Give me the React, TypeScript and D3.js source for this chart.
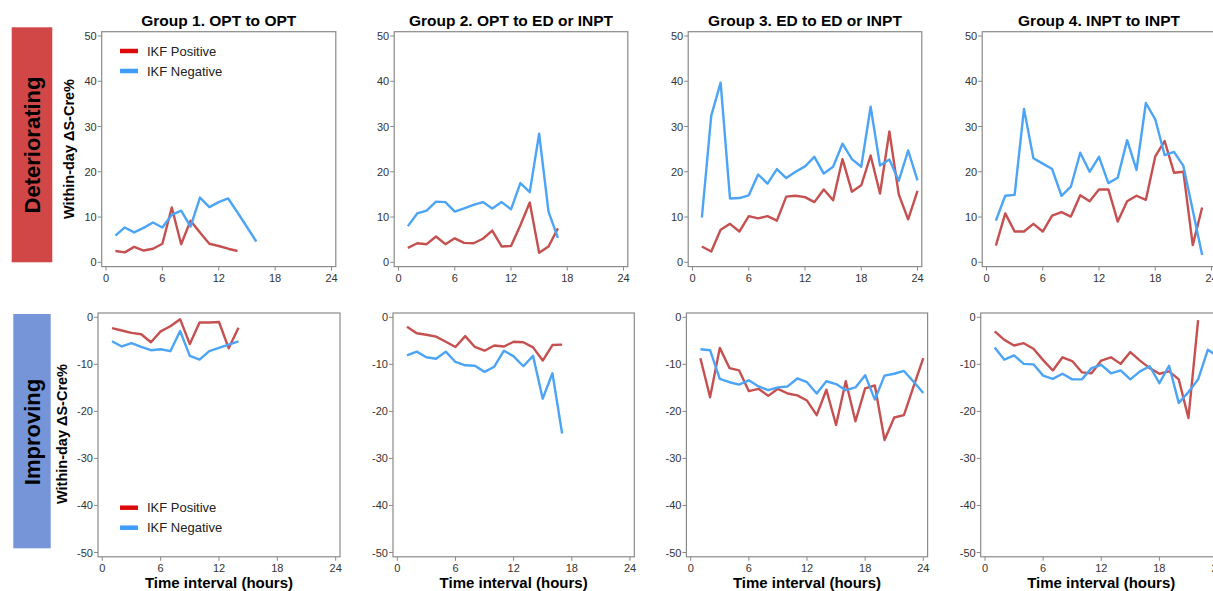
import React from "react";
import * as d3 from "d3";

// ---------- DATA (values start at hour 1) ----------
const groupTitles = [
  "Group 1. OPT to OPT",
  "Group 2. OPT to ED or INPT",
  "Group 3. ED to ED or INPT",
  "Group 4. INPT to INPT",
];
const rowLabels = ["Deteriorating", "Improving"];
const seriesNames = ["IKF Positive", "IKF Negative"];
const xTicks = [0, 6, 12, 18, 24];
const yTicksDet = [0, 10, 20, 30, 40, 50];
const yTicksImp = [0, -10, -20, -30, -40, -50];

const g1DetPos = [2.5, 2.2, 3.4, 2.6, 3.0, 4.1, 12.1, 4.0, 9.2, 6.6, 4.1, 3.6, 3.0, 2.5];
const g1DetNeg = [5.9, 7.7, 6.6, 7.6, 8.8, 7.7, 10.5, 11.4, 7.9, 14.3, 12.2, 13.3, 14.1, 11.0, 7.8, 4.6];
const g2DetPos = [3.2, 4.2, 4.0, 5.7, 4.0, 5.3, 4.3, 4.2, 5.2, 7.0, 3.5, 3.6, 8.2, 13.2, 2.1, 3.5, 7.5];
const g2DetNeg = [8.0, 10.8, 11.4, 13.4, 13.3, 11.2, 11.9, 12.7, 13.3, 11.9, 13.3, 11.7, 17.5, 15.5, 28.4, 11.2, 5.4];
const g3DetPos = [3.5, 2.4, 7.2, 8.5, 6.8, 10.2, 9.7, 10.2, 9.2, 14.5, 14.7, 14.4, 13.3, 16.1, 13.7, 22.8, 15.6, 17.0, 23.6, 15.2, 28.9, 15.0, 9.5, 15.8];
const g3DetNeg = [9.9, 32.4, 39.7, 14.1, 14.2, 14.8, 19.4, 17.4, 20.6, 18.6, 20.0, 21.2, 23.3, 19.6, 21.1, 26.2, 22.8, 21.1, 34.4, 21.4, 22.7, 18.0, 24.7, 18.1];
const g4DetPos = [3.7, 10.8, 6.8, 6.8, 8.5, 6.8, 10.3, 11.1, 10.1, 14.8, 13.5, 16.1, 16.1, 9.0, 13.5, 14.7, 13.8, 23.4, 26.8, 19.8, 20.0, 3.8, 12.1];
const g4DetNeg = [9.2, 14.7, 14.9, 33.9, 23.0, 21.8, 20.6, 14.7, 16.7, 24.2, 20.0, 23.3, 17.5, 18.7, 27.0, 20.4, 35.2, 31.6, 23.7, 24.4, 21.3, 11.5, 1.6];

const g1ImpPos = [-2.3, -2.8, -3.3, -3.6, -5.3, -3.0, -1.9, -0.4, -5.7, -1.1, -1.1, -1.0, -6.6, -2.2];
const g1ImpNeg = [-5.1, -6.2, -5.5, -6.3, -7.0, -6.8, -7.2, -2.9, -8.2, -9.0, -7.2, -6.5, -5.8, -5.1];
const g2ImpPos = [-2.0, -3.4, -3.7, -4.1, -5.2, -6.3, -4.0, -6.3, -7.1, -6.0, -6.2, -5.2, -5.3, -6.4, -9.2, -5.9, -5.8];
const g2ImpNeg = [-8.1, -7.3, -8.5, -8.8, -7.3, -9.5, -10.2, -10.3, -11.6, -10.5, -7.1, -8.3, -10.4, -8.2, -17.3, -11.9, -24.7];
const g3ImpPos = [-8.7, -17.0, -6.5, -10.8, -11.3, -15.7, -15.2, -16.7, -15.2, -16.2, -16.6, -17.7, -20.8, -15.4, -22.9, -13.6, -22.1, -15.1, -14.5, -26.1, -21.3, -20.8, -14.7, -8.7];
const g3ImpNeg = [-6.8, -7.0, -13.1, -13.8, -14.3, -13.4, -14.7, -15.5, -14.9, -14.7, -13.0, -13.8, -16.2, -13.6, -14.2, -15.5, -14.9, -12.3, -17.5, -12.4, -12.0, -11.4, -13.7, -16.1];
const g4ImpPos = [-3.0, -4.8, -6.0, -5.5, -6.7, -9.1, -11.3, -8.5, -9.3, -11.7, -11.9, -9.2, -8.5, -9.9, -7.4, -9.2, -10.8, -12.0, -11.5, -13.2, -21.4, -0.6];
const g4ImpNeg = [-6.4, -9.0, -8.1, -9.9, -10.0, -12.4, -13.1, -12.0, -13.2, -13.2, -10.8, -10.1, -11.9, -11.3, -13.2, -11.5, -10.4, -14.0, -10.3, -18.2, -15.9, -13.2, -6.9, -8.3];

const detPos = [g1DetPos, g2DetPos, g3DetPos, g4DetPos];
const detNeg = [g1DetNeg, g2DetNeg, g3DetNeg, g4DetNeg];
const impPos = [g1ImpPos, g2ImpPos, g3ImpPos, g4ImpPos];
const impNeg = [g1ImpNeg, g2ImpNeg, g3ImpNeg, g4ImpNeg];

// ---------- STYLE / LAYOUT ----------
const FONT = "'Liberation Sans', Arial, sans-serif";
const RED = "#c64f4f";
const BLUE = "#4ba4f6";
const LEG_RED = "#dd0a0a";
const LEG_BLUE = "#3f9cff";

// pixel ranges of each panel's data extent [x0,x24] and [yTop,yBottom]
const topX = [[106, 331.5], [398.5, 623.5], [692.5, 917.5], [986.5, 1211.5]];
const botX = [[102.3, 335.7], [397.3, 630], [690.7, 923.3], [985, 1217.5]];
const topY = [36, 262.3];
const botY = [317.3, 552.5];
const PAD = 4.3;

type PanelProps = {
  xr: number[];
  yr: number[];
  domainY: number[];
  yTicks: number[];
  pos: number[];
  neg: number[];
  title?: string;
  xTitle?: boolean;
  legend?: "top" | "bottom";
};

function Panel({ xr, yr, domainY, yTicks, pos, neg, title, xTitle, legend }: PanelProps) {
  const x = d3.scaleLinear().domain([0, 24]).range(xr);
  const y = d3.scaleLinear().domain(domainY).range(yr);
  const line = d3
    .line<number>()
    .x((_, i) => x(i + 1))
    .y((d) => y(d));
  const bx0 = xr[0] - PAD;
  const bx1 = xr[1] + PAD;
  const by0 = yr[0] - PAD;
  const by1 = yr[1] + PAD;
  const cx = (bx0 + bx1) / 2;
  const legY = legend === "top" ? [51, 71] : [507.7, 527.7];
  return (
    <g>
      {title && (
        <text x={cx} y={26} textAnchor="middle" fontFamily={FONT} fontWeight="bold" fontSize={15.5} fill="#000">
          {title}
        </text>
      )}
      <rect x={bx0} y={by0} width={bx1 - bx0} height={by1 - by0} fill="none" stroke="#8a8a8a" strokeWidth={1.2} />
      {yTicks.map((t) => (
        <g key={"y" + t}>
          <line x1={bx0 - 4} x2={bx0} y1={y(t)} y2={y(t)} stroke="#8a8a8a" strokeWidth={1} />
          <text x={bx0 - 5} y={y(t) + 4} textAnchor="end" fontFamily={FONT} fontSize={11} fill="#333">
            {t}
          </text>
        </g>
      ))}
      {xTicks.map((t) => (
        <g key={"x" + t}>
          <line x1={x(t)} x2={x(t)} y1={by1} y2={by1 + 4} stroke="#8a8a8a" strokeWidth={1} />
          <text x={x(t)} y={by1 + 15} textAnchor="middle" fontFamily={FONT} fontSize={11} fill="#333">
            {t}
          </text>
        </g>
      ))}
      <path d={line(pos) || ""} fill="none" stroke={RED} strokeWidth={2.4} strokeLinejoin="round" />
      <path d={line(neg) || ""} fill="none" stroke={BLUE} strokeWidth={2.4} strokeLinejoin="round" />
      {xTitle && (
        <text x={cx} y={588} textAnchor="middle" fontFamily={FONT} fontWeight="bold" fontSize={15} fill="#000">
          Time interval (hours)
        </text>
      )}
      {legend && (
        <g>
          <line x1={120} x2={138} y1={legY[0]} y2={legY[0]} stroke={LEG_RED} strokeWidth={4.5} />
          <text x={147} y={legY[0] + 4.5} fontFamily={FONT} fontSize={13} fill="#222">
            {seriesNames[0]}
          </text>
          <line x1={120} x2={138} y1={legY[1]} y2={legY[1]} stroke={LEG_BLUE} strokeWidth={4.5} />
          <text x={147} y={legY[1] + 4.5} fontFamily={FONT} fontSize={13} fill="#222">
            {seriesNames[1]}
          </text>
        </g>
      )}
    </g>
  );
}

export default function App() {
  return (
    <svg
      width={1213}
      height={591}
      style={{ position: "absolute", left: 0, top: 0, display: "block", background: "#fff" }}
    >
      <rect x={0} y={0} width={1213} height={591} fill="#fff" />
      {/* Row side labels */}
      <rect x={11.7} y={27.3} width={40.6} height={235} fill="#d14646" />
      <text
        transform={`translate(40,145) rotate(-90)`}
        textAnchor="middle"
        fontFamily={FONT}
        fontWeight="bold"
        fontSize={22}
        fill="#000"
      >
        {rowLabels[0]}
      </text>
      <rect x={13.3} y={314} width={37.4} height={234.3} fill="#7595d8" />
      <text
        transform={`translate(40,432) rotate(-90)`}
        textAnchor="middle"
        fontFamily={FONT}
        fontWeight="bold"
        fontSize={22}
        fill="#000"
      >
        {rowLabels[1]}
      </text>
      <text
        transform={`translate(74,149) rotate(-90)`}
        textAnchor="middle"
        fontFamily={FONT}
        fontWeight="bold"
        fontSize={14.5}
        fill="#000"
      >
        Within-day ΔS-Cre%
      </text>
      <text
        transform={`translate(66.5,434) rotate(-90)`}
        textAnchor="middle"
        fontFamily={FONT}
        fontWeight="bold"
        fontSize={14.5}
        fill="#000"
      >
        Within-day ΔS-Cre%
      </text>
      {groupTitles.map((t, i) => (
        <Panel
          key={"top" + i}
          xr={topX[i]}
          yr={topY}
          domainY={[50, 0]}
          yTicks={yTicksDet}
          pos={detPos[i]}
          neg={detNeg[i]}
          title={t}
          legend={i === 0 ? "top" : undefined}
        />
      ))}
      {groupTitles.map((t, i) => (
        <Panel
          key={"bot" + i}
          xr={botX[i]}
          yr={botY}
          domainY={[0, -50]}
          yTicks={yTicksImp}
          pos={impPos[i]}
          neg={impNeg[i]}
          xTitle
          legend={i === 0 ? "bottom" : undefined}
        />
      ))}
    </svg>
  );
}
